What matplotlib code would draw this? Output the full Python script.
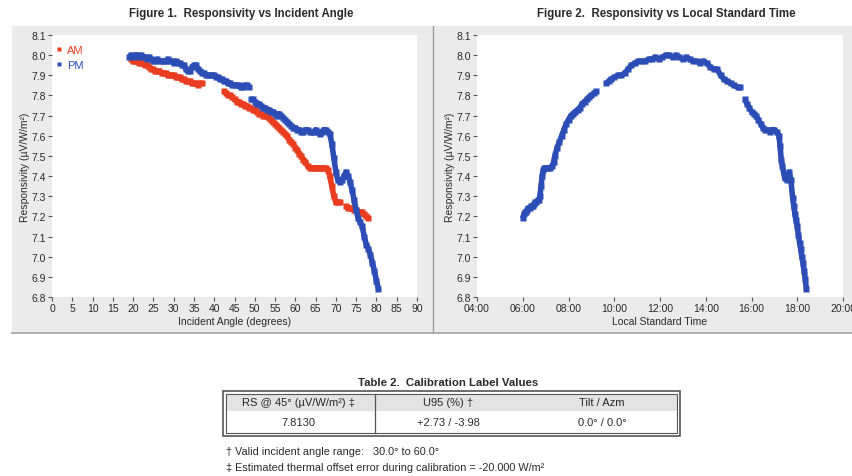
import matplotlib
matplotlib.use("Agg")
import matplotlib.pyplot as plt
from matplotlib.patches import Rectangle
from matplotlib.lines import Line2D

plt.rcParams['font.family'] = ['Liberation Sans', 'DejaVu Sans']

# ---------------- data ----------------
# Figure 1, AM (three runs of points)
am_angle_1 = [19.5, 20, 20.5, 21, 21.5, 22, 22.5, 23, 23.5, 24, 24.5, 25, 25.5, 26, 26.5, 27, 27.5, 28,
              28.5, 29, 29.5, 30, 30.5, 31, 31.5, 32, 32.5, 33, 33.5, 34, 34.5, 35, 35.5, 36, 36.5, 37]
am_resp_1 = [7.98, 7.97, 7.97, 7.97, 7.96, 7.96, 7.96, 7.95, 7.95, 7.94, 7.93, 7.93, 7.92, 7.92, 7.92, 7.91,
             7.91, 7.91, 7.90, 7.90, 7.90, 7.90, 7.89, 7.89, 7.89, 7.88, 7.88, 7.87, 7.87, 7.87, 7.86, 7.86,
             7.86, 7.85, 7.86, 7.86]
am_angle_2 = [42.5, 43, 43.5, 44, 44.5, 45, 45.5, 46, 46.5, 47, 47.5, 48, 48.5, 49, 49.5, 50, 50.5, 51,
              51.5, 52, 52.5, 53, 53.5, 54, 54.5, 55, 55.5, 56, 56.5, 57, 57.5, 58, 58.5, 59, 59.5, 60,
              60.5, 61, 61.5, 62, 62.5, 63, 63.5, 64, 64.5, 65, 65.5, 66, 66.5, 67, 67.5, 68, 68.5, 69,
              69.5, 70, 70.5, 71]
am_resp_2 = [7.82, 7.81, 7.80, 7.80, 7.79, 7.78, 7.77, 7.77, 7.76, 7.76, 7.75, 7.75, 7.74, 7.74, 7.73, 7.73,
             7.72, 7.71, 7.71, 7.70, 7.70, 7.70, 7.69, 7.68, 7.67, 7.66, 7.65, 7.64, 7.63, 7.62, 7.61, 7.60,
             7.58, 7.57, 7.56, 7.54, 7.53, 7.51, 7.50, 7.48, 7.47, 7.45, 7.44, 7.44, 7.44, 7.44, 7.44, 7.44,
             7.44, 7.44, 7.44, 7.43, 7.40, 7.35, 7.30, 7.27, 7.27, 7.27]
am_angle_3 = [72.5, 73, 73.5, 74, 74.5, 75, 75.5, 76, 76.5, 77, 77.5, 78]
am_resp_3 = [7.25, 7.24, 7.24, 7.24, 7.23, 7.23, 7.22, 7.22, 7.22, 7.21, 7.20, 7.19]

# Figure 1, PM (two runs of points)
pm_angle_1 = [19, 19.5, 20, 20.5, 21, 21.5, 22, 22.5, 23, 23.5, 24, 24.5, 25, 25.5, 26, 26.5, 27, 27.5,
              28, 28.5, 29, 29.5, 30, 30.5, 31, 31.5, 32, 32.5, 33, 33.5, 34, 34.5, 35, 35.5, 36, 36.5,
              37, 37.5, 38, 38.5, 39, 39.5, 40, 40.5, 41, 41.5, 42, 42.5, 43, 43.5, 44, 44.5, 45, 45.5,
              46, 46.5, 47, 47.5, 48, 48.5]
pm_resp_1 = [7.99, 8.00, 7.99, 8.00, 8.00, 7.99, 8.00, 7.99, 7.99, 7.98, 7.99, 7.98, 7.97, 7.97, 7.98, 7.97,
             7.97, 7.97, 7.97, 7.98, 7.97, 7.97, 7.96, 7.97, 7.96, 7.96, 7.95, 7.95, 7.93, 7.92, 7.92, 7.94,
             7.95, 7.95, 7.93, 7.92, 7.91, 7.91, 7.90, 7.90, 7.90, 7.90, 7.90, 7.89, 7.89, 7.88, 7.88, 7.87,
             7.87, 7.86, 7.86, 7.85, 7.85, 7.85, 7.85, 7.84, 7.84, 7.85, 7.85, 7.84]
pm_angle_2 = [49, 49.5, 50, 50.5, 51, 51.5, 52, 52.5, 53, 53.5, 54, 54.5, 55, 55.5, 56, 56.5, 57, 57.5,
              58, 58.5, 59, 59.5, 60, 60.5, 61, 61.5, 62, 62.5, 63, 63.5, 64, 64.5, 65, 65.5, 66, 66.5,
              67, 67.5, 68, 68.5, 69, 69.5, 70, 70.5, 71, 71.5, 72, 72.5, 73, 73.5, 74, 74.5, 75, 75.5,
              76, 76.5, 77, 77.5, 78, 78.5, 79, 79.5, 80, 80.5]
pm_resp_2 = [7.78, 7.78, 7.77, 7.76, 7.76, 7.75, 7.74, 7.74, 7.73, 7.73, 7.72, 7.72, 7.71, 7.70, 7.71, 7.70,
             7.69, 7.68, 7.67, 7.66, 7.65, 7.64, 7.64, 7.63, 7.63, 7.62, 7.62, 7.63, 7.63, 7.62, 7.62, 7.62,
             7.63, 7.62, 7.61, 7.62, 7.63, 7.63, 7.62, 7.61, 7.56, 7.49, 7.42, 7.38, 7.37, 7.38, 7.40, 7.42,
             7.40, 7.37, 7.33, 7.28, 7.23, 7.19, 7.17, 7.15, 7.10, 7.06, 7.04, 7.01, 6.97, 6.93, 6.88, 6.84]

# Figure 2 (decimal hours, three runs of points)
time_hours_1 = [6.0, 6.05, 6.1, 6.15, 6.2, 6.25, 6.3, 6.35, 6.4, 6.45, 6.5, 6.55, 6.6, 6.65, 6.7, 6.75,
                6.8, 6.85, 6.9, 6.95, 7.0, 7.1, 7.2, 7.3, 7.35, 7.4, 7.5, 7.6, 7.7, 7.8, 7.9, 8.0, 8.1,
                8.2, 8.3, 8.4, 8.5, 8.6, 8.7, 8.8, 8.9, 9.0, 9.1, 9.2]
time_resp_1 = [7.19, 7.21, 7.22, 7.22, 7.23, 7.24, 7.24, 7.25, 7.25, 7.25, 7.26, 7.27, 7.27, 7.28, 7.28,
               7.30, 7.35, 7.40, 7.43, 7.44, 7.44, 7.44, 7.44, 7.45, 7.47, 7.50, 7.54, 7.57, 7.60, 7.63,
               7.66, 7.68, 7.70, 7.71, 7.72, 7.73, 7.74, 7.76, 7.77, 7.78, 7.79, 7.80, 7.81, 7.82]
time_hours_2 = [9.65, 9.75, 9.85, 10.0, 10.15, 10.3, 10.45, 10.6, 10.75, 10.9, 11.05, 11.2, 11.35, 11.5,
                11.65, 11.8, 11.95, 12.1, 12.25, 12.4, 12.55, 12.7, 12.85, 13.0, 13.15, 13.3, 13.45, 13.6,
                13.75, 13.9, 14.05, 14.2, 14.35, 14.5, 14.65, 14.8, 14.95, 15.1, 15.25, 15.4, 15.5]
time_resp_2 = [7.86, 7.87, 7.88, 7.89, 7.90, 7.90, 7.91, 7.93, 7.95, 7.96, 7.97, 7.97, 7.97, 7.98,
               7.98, 7.99, 7.98, 7.99, 8.00, 8.00, 7.99, 8.00, 7.99, 7.98, 7.99, 7.98, 7.97, 7.97,
               7.96, 7.97, 7.96, 7.94, 7.93, 7.93, 7.90, 7.88, 7.87, 7.86, 7.85, 7.84, 7.84]
time_hours_3 = [15.7, 15.8, 15.9, 16.0, 16.1, 16.2, 16.3, 16.4, 16.5, 16.6, 16.7, 16.8, 16.9, 17.0, 17.1,
                17.2, 17.25, 17.3, 17.35, 17.45, 17.55, 17.65, 17.72, 17.8, 17.85, 17.9, 17.95, 18.0,
                18.05, 18.1, 18.15, 18.2, 18.25, 18.3, 18.35, 18.4]
time_resp_3 = [7.78, 7.76, 7.74, 7.72, 7.71, 7.70, 7.68, 7.66, 7.64, 7.63, 7.63, 7.62, 7.63, 7.63, 7.62,
               7.60, 7.55, 7.48, 7.45, 7.39, 7.38, 7.42, 7.38, 7.29, 7.25, 7.21, 7.18, 7.15, 7.11,
               7.07, 7.04, 7.00, 6.97, 6.93, 6.89, 6.84]

angle_ticks = list(range(0, 91, 5))
resp_ticks = [6.8, 6.9, 7.0, 7.1, 7.2, 7.3, 7.4, 7.5, 7.6, 7.7, 7.8, 7.9, 8.0, 8.1]
time_ticks = [4, 6, 8, 10, 12, 14, 16, 18, 20]
time_tick_labels = ["04:00", "06:00", "08:00", "10:00", "12:00", "14:00", "16:00", "18:00", "20:00"]

table_header = ["RS @ 45° (µV/W/m²) ‡", "U95 (%) †", "Tilt / Azm"]
table_values = ["7.8130", "+2.73 / -3.98", "0.0° / 0.0°"]
footnotes = ["† Valid incident angle range:   30.0° to 60.0°",
             "‡ Estimated thermal offset error during calibration = -20.000 W/m²"]

# ---------------- layout helpers ----------------
W, H = 852, 477
fig = plt.figure(figsize=(W / 100, H / 100), dpi=100)
fig.patch.set_facecolor('white')


def rect_px(x0, y0, x1, y1):
    return [x0 / W, 1 - y1 / H, (x1 - x0) / W, (y1 - y0) / H]


def fpt(x, y):
    return (x / W, 1 - y / H)


def add_rect(x0, y0, x1, y1, z=-5, **kw):
    r = Rectangle(fpt(x0, y1), (x1 - x0) / W, (y1 - y0) / H, transform=fig.transFigure, zorder=z, **kw)
    fig.patches.append(r)


def add_line(xs, ys, z=-4, **kw):
    fig.add_artist(Line2D([x / W for x in xs], [1 - y / H for y in ys], transform=fig.transFigure,
                          zorder=z, **kw))


RED = '#ea3d20'
BLUE = '#2b4db5'
TXT = '#2a2a2a'

# panels
add_rect(12, 27, 433, 334, facecolor='#ebebeb', edgecolor='none')
add_rect(434, 27, 852, 334, facecolor='#ebebeb', edgecolor='none')
add_line([433, 433], [27, 334], color='#9c9c9c', lw=1.0)
add_line([12, 852], [333.5, 333.5], color='#a9a9a9', lw=1.3)

fig.text(241 / W, 1 - 14 / H, 'Figure 1.  Responsivity vs Incident Angle', ha='center', va='center',
         fontsize=8.3, fontweight='bold', color=TXT)
fig.text(666 / W, 1 - 14 / H, 'Figure 2.  Responsivity vs Local Standard Time', ha='center', va='center',
         fontsize=8.3, fontweight='bold', color=TXT)

ax1 = fig.add_axes(rect_px(52, 36, 417, 298))
ax2 = fig.add_axes(rect_px(477, 36, 843, 298))

ms = 4.0
lw = 4.0


def draw_run(ax, x, y, color, z):
    ax.plot(x, y, linestyle='-', lw=lw, solid_capstyle='butt', solid_joinstyle='round',
            marker='s', ms=ms, mec='none', color=color, zorder=z)


for x, y in [(am_angle_1, am_resp_1), (am_angle_2, am_resp_2), (am_angle_3, am_resp_3)]:
    draw_run(ax1, x, y, RED, 2)
for x, y in [(pm_angle_1, pm_resp_1), (pm_angle_2, pm_resp_2)]:
    draw_run(ax1, x, y, BLUE, 3)
for x, y in [(time_hours_1, time_resp_1), (time_hours_2, time_resp_2), (time_hours_3, time_resp_3)]:
    draw_run(ax2, x, y, BLUE, 3)

h_am = Line2D([], [], linestyle='none', marker='s', ms=3, mec='none', color=RED, label='AM')
h_pm = Line2D([], [], linestyle='none', marker='s', ms=3, mec='none', color=BLUE, label='PM')
ax1.legend(handles=[h_am, h_pm], loc='upper left', bbox_to_anchor=(0.012, 0.962), frameon=False,
           handlelength=0.5, handletextpad=0.45, borderaxespad=0, borderpad=0, labelspacing=0.45,
           fontsize=8, labelcolor='linecolor')

for ax in (ax1, ax2):
    ax.set_facecolor('white')
    for s in ax.spines.values():
        s.set_visible(False)
    ax.set_ylim(6.8, 8.1)
    ax.set_yticks(resp_ticks)
    ax.set_yticklabels([f"{v:.1f}" for v in resp_ticks])
    ax.tick_params(direction='out', length=3, width=0.8, color='#555555', labelsize=7.5,
                   labelcolor=TXT, pad=1.5)
    ax.set_ylabel('Responsivity (µV/W/m²)', fontsize=7.5, color=TXT, labelpad=0.5)

ax1.set_xlim(0, 90)
ax1.set_xticks(angle_ticks)
ax1.set_xlabel('Incident Angle (degrees)', fontsize=7.5, color=TXT, labelpad=2)

ax2.set_xlim(4, 20)
ax2.set_xticks(time_ticks)
ax2.set_xticklabels(time_tick_labels)
ax2.set_xlabel('Local Standard Time', fontsize=7.5, color=TXT, labelpad=2)

# ---------------- table ----------------
fig.text(448 / W, 1 - 383 / H, 'Table 2.  Calibration Label Values', ha='center', va='center',
         fontsize=8.2, fontweight='bold', color=TXT)
add_rect(226, 395, 677, 412, facecolor='#e3e3e3', edgecolor='none')
add_rect(223, 392, 680, 437, facecolor='none', edgecolor='#555555', lw=1.2, z=-3)
add_rect(226, 395, 677, 434, facecolor='none', edgecolor='#555555', lw=0.8, z=-3)
add_line([375, 375], [395, 434], color='#555555', lw=0.9)
col_x = [298, 448, 602]
for cx, hd, vl in zip(col_x, table_header, table_values):
    fig.text(cx / W, 1 - 403.5 / H, hd, ha='center', va='center', fontsize=8, color=TXT)
    fig.text(cx / W, 1 - 423 / H, vl, ha='center', va='center', fontsize=8, color=TXT)
fig.text(226 / W, 1 - 452 / H, footnotes[0], ha='left', va='center', fontsize=7.8, color=TXT)
fig.text(226 / W, 1 - 468 / H, footnotes[1], ha='left', va='center', fontsize=7.8, color=TXT)

fig.savefig('out.png', dpi=100, facecolor='white')
